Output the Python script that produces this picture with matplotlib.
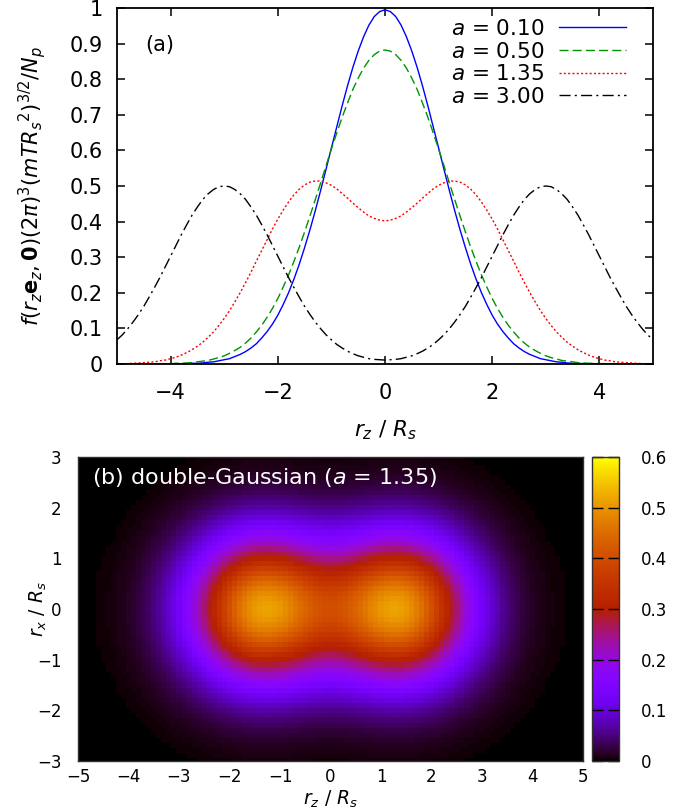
import numpy as np
import matplotlib
matplotlib.use('Agg')
import matplotlib.pyplot as plt
from matplotlib.ticker import FormatStrFormatter

# r_z grid (-5 .. 5, step 0.1) and r_x grid (-3 .. 3, step 0.1)
rz = np.round(np.arange(-50, 51) * 0.1, 2)
rx = np.round(np.arange(-30, 31) * 0.1, 2)

# f(r_z e_z, 0) profiles
f_a010 = [0.000, 0.000, 0.000, 0.000, 0.000, 0.000, 0.000, 0.000, 0.000, 0.000,
          0.000, 0.001, 0.001, 0.001, 0.002, 0.002, 0.003, 0.005, 0.006, 0.009,
          0.012, 0.015, 0.021, 0.027, 0.035, 0.045, 0.057, 0.073, 0.091, 0.112,
          0.137, 0.167, 0.200, 0.238, 0.280, 0.327, 0.377, 0.431, 0.488, 0.547,
          0.607, 0.666, 0.725, 0.781, 0.833, 0.879, 0.919, 0.952, 0.976, 0.990,
          0.995,
          0.990, 0.976, 0.952, 0.919, 0.879, 0.833, 0.781, 0.725, 0.666, 0.607,
          0.547, 0.488, 0.431, 0.377, 0.327, 0.280, 0.238, 0.200, 0.167, 0.137,
          0.112, 0.091, 0.073, 0.057, 0.045, 0.035, 0.027, 0.021, 0.015, 0.012,
          0.009, 0.006, 0.005, 0.003, 0.002, 0.002, 0.001, 0.001, 0.001, 0.000,
          0.000, 0.000, 0.000, 0.000, 0.000, 0.000, 0.000, 0.000, 0.000, 0.000]
f_a050 = [0.000, 0.000, 0.000, 0.000, 0.000, 0.000, 0.000, 0.000, 0.001, 0.001,
          0.001, 0.002, 0.002, 0.003, 0.004, 0.006, 0.008, 0.010, 0.014, 0.018,
          0.023, 0.030, 0.038, 0.047, 0.059, 0.073, 0.090, 0.109, 0.131, 0.156,
          0.184, 0.216, 0.250, 0.288, 0.328, 0.371, 0.416, 0.462, 0.509, 0.557,
          0.604, 0.649, 0.693, 0.733, 0.771, 0.803, 0.831, 0.853, 0.869, 0.879,
          0.882,
          0.879, 0.869, 0.853, 0.831, 0.803, 0.771, 0.733, 0.693, 0.649, 0.604,
          0.557, 0.509, 0.462, 0.416, 0.371, 0.328, 0.288, 0.250, 0.216, 0.184,
          0.156, 0.131, 0.109, 0.090, 0.073, 0.059, 0.047, 0.038, 0.030, 0.023,
          0.018, 0.014, 0.010, 0.008, 0.006, 0.004, 0.003, 0.002, 0.002, 0.001,
          0.001, 0.001, 0.000, 0.000, 0.000, 0.000, 0.000, 0.000, 0.000, 0.000]
f_a135 = [0.001, 0.001, 0.001, 0.002, 0.003, 0.004, 0.005, 0.006, 0.009, 0.011,
          0.015, 0.019, 0.025, 0.032, 0.040, 0.050, 0.061, 0.075, 0.090, 0.108,
          0.128, 0.150, 0.175, 0.201, 0.229, 0.258, 0.289, 0.319, 0.349, 0.379,
          0.407, 0.432, 0.455, 0.475, 0.491, 0.503, 0.511, 0.514, 0.514, 0.509,
          0.502, 0.492, 0.479, 0.466, 0.452, 0.439, 0.427, 0.416, 0.409, 0.404,
          0.402,
          0.404, 0.409, 0.416, 0.427, 0.439, 0.452, 0.466, 0.479, 0.492, 0.502,
          0.509, 0.514, 0.514, 0.511, 0.503, 0.491, 0.475, 0.455, 0.432, 0.407,
          0.379, 0.349, 0.319, 0.289, 0.258, 0.229, 0.201, 0.175, 0.150, 0.128,
          0.108, 0.090, 0.075, 0.061, 0.050, 0.040, 0.032, 0.025, 0.019, 0.015,
          0.011, 0.009, 0.006, 0.005, 0.004, 0.003, 0.002, 0.001, 0.001, 0.001]
f_a300 = [0.068, 0.082, 0.099, 0.118, 0.139, 0.162, 0.188, 0.215, 0.243, 0.273,
          0.303, 0.333, 0.363, 0.391, 0.418, 0.441, 0.462, 0.478, 0.490, 0.498,
          0.500, 0.498, 0.490, 0.478, 0.462, 0.441, 0.418, 0.391, 0.363, 0.333,
          0.303, 0.273, 0.243, 0.215, 0.188, 0.162, 0.139, 0.118, 0.099, 0.082,
          0.068, 0.055, 0.045, 0.036, 0.029, 0.023, 0.019, 0.015, 0.013, 0.012,
          0.011,
          0.012, 0.013, 0.015, 0.019, 0.023, 0.029, 0.036, 0.045, 0.055, 0.068,
          0.082, 0.099, 0.118, 0.139, 0.162, 0.188, 0.215, 0.243, 0.273, 0.303,
          0.333, 0.363, 0.391, 0.418, 0.441, 0.462, 0.478, 0.490, 0.498, 0.500,
          0.498, 0.490, 0.478, 0.462, 0.441, 0.418, 0.391, 0.363, 0.333, 0.303,
          0.273, 0.243, 0.215, 0.188, 0.162, 0.139, 0.118, 0.099, 0.082, 0.068]
a_values = [0.10, 0.50, 1.35, 3.00]

# transverse profile (relative) of the a = 1.35 distribution along r_x
prof_x = [0.011, 0.015, 0.020, 0.026, 0.034, 0.044, 0.056, 0.071, 0.089, 0.110,
          0.135, 0.164, 0.198, 0.236, 0.278, 0.325, 0.375, 0.430, 0.487, 0.546,
          0.607, 0.667, 0.726, 0.783, 0.835, 0.882, 0.923, 0.956, 0.980, 0.995,
          1.000,
          0.995, 0.980, 0.956, 0.923, 0.882, 0.835, 0.783, 0.726, 0.667, 0.607,
          0.546, 0.487, 0.430, 0.375, 0.325, 0.278, 0.236, 0.198, 0.164, 0.135,
          0.110, 0.089, 0.071, 0.056, 0.044, 0.034, 0.026, 0.020, 0.015, 0.011]

plt.rcParams['font.family'] = ['DejaVu Sans']
plt.rcParams['mathtext.fontset'] = 'dejavusans'
W, H = 680, 810
fig = plt.figure(figsize=(W / 100, H / 100), dpi=100)

def box(l, t, r, b):
    return [l / W, 1 - b / H, (r - l) / W, (b - t) / H]

# ---------- panel (a) ----------
ax = fig.add_axes(box(117, 8, 653, 364))
styles = [('#0000ff', '-'),
          ('#009400', (0, (6.5, 3))),
          ('#ff0000', (0, (1.5, 1.6))),
          ('#000000', (0, (8, 3, 1.5, 3)))]
for a, f, (c, ls) in zip(a_values, [f_a010, f_a050, f_a135, f_a300], styles):
    ax.plot(rz, f, color=c, ls=ls, lw=1.0, label='$a$ = %.2f' % a)
ax.set_xlim(-5, 5)
ax.set_ylim(0, 1)
ax.set_xticks([-4, -2, 0, 2, 4])
ax.set_yticks(np.arange(0, 11) / 10)
ax.yaxis.set_major_formatter(FormatStrFormatter('%g'))
ax.tick_params(direction='in', length=6, width=1.1, top=True, right=True,
               labelsize=15)
ax.tick_params(axis='x', pad=14)
ax.tick_params(axis='y', pad=10)
for s in ax.spines.values():
    s.set_linewidth(1.3)
ax.text(-4.48, 0.895, '(a)', fontsize=15, va='center', ha='left')
leg = ax.legend(loc='upper right', bbox_to_anchor=(626 / W, 1 - 19 / H),
                bbox_transform=fig.transFigure, frameon=False, markerfirst=False,
                fontsize=15.5, handlelength=3.1, handletextpad=0.7,
                labelspacing=0.12, borderpad=0, borderaxespad=0)
fig.text(32 / W, 1 - 186 / H,
         r'$f(r_z\mathbf{e}_z,\mathbf{0})(2\pi)^3(mTR_s{}^2)^{3/2}/N_p$',
         rotation=90, ha='center', va='center', fontsize=15)
fig.text(385 / W, 1 - 430 / H, r'$r_z$ / $R_s$', ha='center', va='center',
         fontsize=15.5)

# ---------- panel (b) ----------
bx = fig.add_axes(box(78, 457, 583, 761))
dens = np.outer(prof_x, f_a135)
mesh = bx.pcolormesh(rz, rx, dens, shading='nearest', cmap='gnuplot',
                     vmin=0, vmax=0.6)
bx.set_xlim(-5, 5)
bx.set_ylim(-3, 3)
bx.set_xticks(np.arange(-5, 6))
bx.set_yticks(np.arange(-3, 4))
bx.tick_params(length=0, labelsize=12)
bx.tick_params(axis='x', pad=5)
bx.tick_params(axis='y', pad=12)
for s in bx.spines.values():
    s.set_linewidth(1.0)
    s.set_color('#303030')
bx.text(-4.72, 2.6, '(b) double-Gaussian ($a$ = 1.35)', color='white',
        fontsize=16, va='center', ha='left')
fig.text(330 / W, 1 - 799 / H, r'$r_z$ / $R_s$', ha='center', va='center',
         fontsize=13.5)
fig.text(38 / W, 1 - 609 / H, r'$r_x$ / $R_s$', rotation=90, ha='center',
         va='center', fontsize=13.5)

cax = fig.add_axes(box(592, 457, 619, 761))
cb = fig.colorbar(mesh, cax=cax, ticks=np.arange(0, 7) / 10)
cb.ax.yaxis.set_major_formatter(FormatStrFormatter('%g'))
cb.ax.tick_params(direction='in', length=8, width=1.0, left=True, right=True,
                  labelsize=12, pad=16, colors='black')
cb.outline.set_linewidth(1.0)
cb.outline.set_edgecolor('#303030')

fig.savefig('out.png', dpi=100)
